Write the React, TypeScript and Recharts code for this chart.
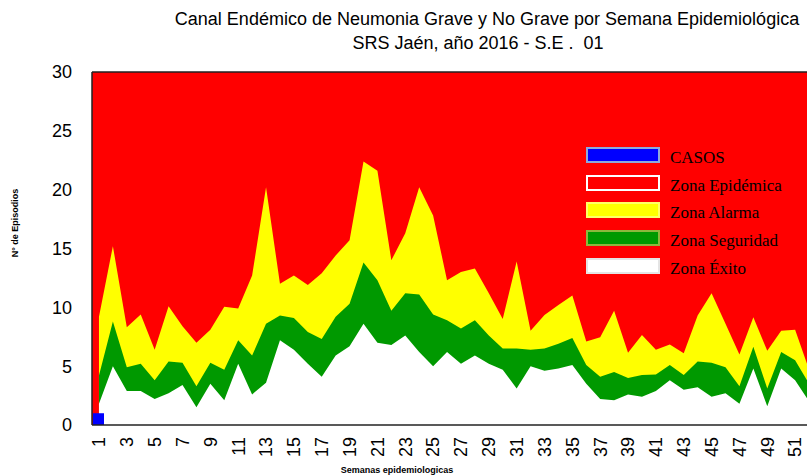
import { ComposedChart, Area, Bar, XAxis, YAxis, CartesianGrid, ReferenceLine, Legend } from 'recharts';

const weeks = [
  '1', '2', '3', '4', '5', '6', '7', '8', '9', '10', '11', '12', '13',
  '14', '15', '16', '17', '18', '19', '20', '21', '22', '23', '24', '25', '26',
  '27', '28', '29', '30', '31', '32', '33', '34', '35', '36', '37', '38', '39',
  '40', '41', '42', '43', '44', '45', '46', '47', '48', '49', '50', '51', '52',
];

// upper limit of each zone, per week
const exito = [
  1.8, 5.0, 2.9, 2.9, 2.2, 2.7, 3.4, 1.5, 3.5, 2.1, 5.2, 2.6, 3.6,
  7.2, 6.4, 5.2, 4.1, 5.9, 6.7, 8.6, 7.0, 6.8, 7.6, 6.2, 5.0, 6.2,
  5.2, 5.9, 5.2, 4.7, 3.1, 5.0, 4.6, 4.8, 5.1, 3.5, 2.2, 2.1, 2.6,
  2.4, 2.9, 3.8, 3.0, 3.2, 2.4, 2.7, 1.8, 4.8, 1.6, 4.8, 3.8, 2.0,
];
const seguridad = [
  4.2, 8.8, 4.9, 5.2, 3.8, 5.4, 5.3, 3.3, 5.3, 4.7, 7.2, 5.9, 8.6,
  9.3, 9.1, 7.9, 7.3, 9.2, 10.3, 13.8, 12.3, 9.7, 11.2, 11.1, 9.4, 8.9,
  8.2, 8.9, 7.6, 6.5, 6.5, 6.4, 6.5, 6.9, 7.4, 5.1, 4.1, 4.5, 4.0,
  4.25, 4.3, 5.1, 4.25, 5.4, 5.3, 4.9, 3.3, 6.65, 3.1, 6.2, 5.5, 3.5,
];
const alarma = [
  9.2, 15.2, 8.3, 9.4, 6.4, 10.1, 8.4, 7.0, 8.1, 10.05, 9.9, 12.7, 20.2,
  12.0, 12.7, 11.9, 12.9, 14.4, 15.7, 22.4, 21.6, 14.0, 16.3, 20.2, 17.8, 12.3,
  13.0, 13.3, 11.2, 9.0, 13.9, 8.0, 9.35, 10.2, 11.0, 7.1, 7.45, 9.7, 6.15,
  7.65, 6.4, 6.85, 6.1, 9.3, 11.2, 8.6, 6.0, 9.15, 6.3, 8.0, 8.1, 4.7,
];
const casos = [1];

const yTicks = [0, 5, 10, 15, 20, 25, 30];

const legendItems = [
  { label: 'CASOS', fill: '#0000FF', border: '#8EA9DB' },
  { label: 'Zona Epidémica', fill: '#FF0000', border: '#FFFFFF' },
  { label: 'Zona Alarma', fill: '#FFFF00', border: '#FFFF66' },
  { label: 'Zona Seguridad', fill: '#009900', border: '#8DB83D' },
  { label: 'Zona Éxito', fill: '#FFFFFF', border: '#E4E4E4' },
];

const data = weeks.map((w, i) => ({
  semana: w,
  exito: exito[i],
  seguridad: seguridad[i],
  alarma: alarma[i],
  casos: casos[i] ?? null,
}));

const SANS = '"Liberation Sans", Arial, sans-serif';
const SERIF = '"Liberation Serif", "Times New Roman", serif';

const WeekTick = (props: any) => {
  const { x, y, payload } = props;
  return (
    <g transform={`translate(${x},${y + 12}) rotate(-90)`}>
      <text textAnchor="end" dy="0.35em" fontSize={18} fontFamily={SANS} fill="#000">
        {payload.value}
      </text>
    </g>
  );
};

const XTitle = (props: any) => {
  const { viewBox } = props;
  return (
    <text x={viewBox.x + 305} y={viewBox.y + 48} textAnchor="middle" fontSize={9} fontWeight="bold" fontFamily={SANS} fill="#000">
      Semanas epidemiologicas
    </text>
  );
};

const YTitle = (props: any) => {
  const { viewBox } = props;
  const x = viewBox.x + 18;
  const y = viewBox.y + 151;
  return (
    <text x={x} y={y} transform={`rotate(-90 ${x} ${y})`} textAnchor="middle" fontSize={9} fontWeight="bold" fontFamily={SANS} fill="#000">
      N° de Episodios
    </text>
  );
};

const ZoneLegend = () => (
  <div style={{ fontFamily: SERIF, fontSize: 17, color: '#000' }}>
    {legendItems.map((it) => (
      <div key={it.label} style={{ display: 'flex', alignItems: 'center', height: 27.7 }}>
        <div style={{ width: 74, height: 16, boxSizing: 'border-box', background: it.fill, border: `2px solid ${it.border}` }} />
        <span style={{ marginLeft: 10, position: 'relative', top: 3, whiteSpace: 'nowrap' }}>{it.label}</span>
      </div>
    ))}
  </div>
);

export default function App() {
  return (
    <div style={{ position: 'fixed', left: 0, top: 0, width: 807, height: 476, overflow: 'hidden', background: '#fff' }}>
      <svg width={807} height={60} style={{ position: 'absolute', left: 0, top: 0 }}>
        <text x={487} y={25} textAnchor="middle" fontSize={18} fontFamily={SANS} fill="#000">
          Canal Endémico de Neumonia Grave y No Grave por Semana Epidemiológica
        </text>
        <text x={478} y={49} textAnchor="middle" fontSize={18} fontFamily={SANS} fill="#000" style={{ whiteSpace: 'pre' }}>
          {'SRS Jaén, año 2016 - S.E .  01'}
        </text>
      </svg>
      <div style={{ position: 'absolute', left: 0, top: 0 }}>
        <ComposedChart width={824} height={476} data={data} margin={{ top: 72, right: 8, left: 0, bottom: 0 }}>
          <CartesianGrid fill="#FF0000" horizontal={false} vertical={false} />
          <XAxis
            dataKey="semana"
            interval={1}
            height={51}
            tickLine={false}
            tickSize={0}
            tickMargin={0}
            tick={<WeekTick />}
            axisLine={{ stroke: '#222', strokeWidth: 1.5 }}
            label={<XTitle />}
          />
          <YAxis
            width={92}
            domain={[0, 30]}
            ticks={yTicks}
            tickLine={false}
            tickSize={0}
            tickMargin={20}
            tick={{ fontSize: 18, fill: '#000', fontFamily: SANS }}
            axisLine={{ stroke: '#222', strokeWidth: 1.5 }}
            label={<YTitle />}
          />
          <Area type="linear" dataKey="alarma" fill="#FFFF00" fillOpacity={1} stroke="none" isAnimationActive={false} />
          <Area type="linear" dataKey="seguridad" fill="#009900" fillOpacity={1} stroke="none" isAnimationActive={false} />
          <Area type="linear" dataKey="exito" fill="#FFFFFF" fillOpacity={1} stroke="none" isAnimationActive={false} />
          <Bar dataKey="casos" fill="#0000FF" barSize={11} isAnimationActive={false} />
          <ReferenceLine y={30} stroke="#222" strokeWidth={1.5} />
          <Legend
            layout="horizontal"
            verticalAlign="middle"
            align="center"
            content={<ZoneLegend />}
            wrapperStyle={{ top: 141, left: 586, width: 'auto', height: 'auto' }}
          />
        </ComposedChart>
      </div>
    </div>
  );
}
